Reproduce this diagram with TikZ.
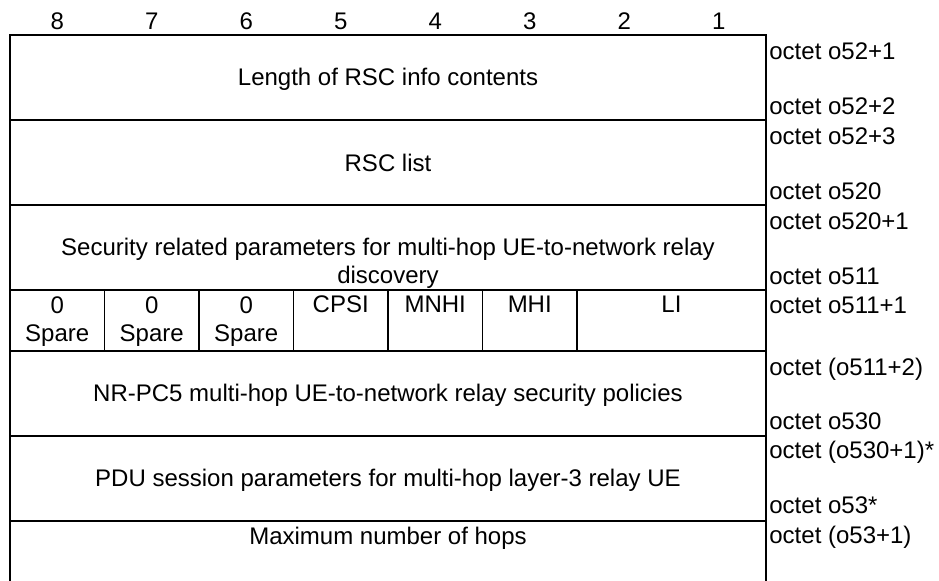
\documentclass[tikz,border=0pt]{standalone}
\usepackage{fontspec}
\setmainfont{Liberation Sans}
\usetikzlibrary{positioning}
\tikzset{
  rule/.style={line width=0.7pt},
  field/.style={font=\fontsize{12}{14}\selectfont,inner sep=0pt,align=center,anchor=base},
  octet/.style={font=\fontsize{12}{14}\selectfont,inner sep=0pt,anchor=base west},
}

\begin{document}
\begin{tikzpicture}[x=0.5pt,y=-0.5pt]
\useasboundingbox (0,0) rectangle (939,581);
% bit numbers
\foreach \b in {1,...,8}
  \node[field] (bit\b) at ({57.25+94.5*(8-\b)},30) {\b};
% frame and rows
\draw[rule] (10,581) -- (10,35) -- (766,35) -- (766,581);
\foreach \y in {120,205,290,351,436,521}
  \draw[rule] (10,\y) -- (766,\y);
\foreach \x in {104.5,199,293.5,388,482.5,577}
  \draw[rule] (\x,290) -- (\x,351);
% fields (multi-line nodes sit on their last baseline)
\node[field] (len) at (388,86) {Length of RSC info contents};
\node[field] (rsclist) at (388,171.5) {RSC list};
\node[field] (secpar) at (388,284) {Security related parameters for multi-hop UE-to-network relay\\discovery};
\foreach \b in {8,7,6}
  \node[field] (spare\b) at ({57.25+94.5*(8-\b)},341.5) {0\\Spare};
\node[field] (cpsi) at (340.75,313) {CPSI};
\node[field] (mnhi) at (435.25,313) {MNHI};
\node[field] (mhi) at (529.75,313) {MHI};
\node[field] (li) at (671.5,313) {LI};
\node[field] (policies) at (388,401.5) {NR-PC5 multi-hop UE-to-network relay security policies};
\node[field] (pdu) at (388,486.5) {PDU session parameters for multi-hop layer-3 relay UE};
\node[field] (maxhops) at (388,545) {Maximum number of hops};
% octet numbers
\node[octet] (oct1) at (769,60) {octet o52+1};
\node[octet] (oct2) at (769,115) {octet o52+2};
\node[octet] (oct3) at (769,144.5) {octet o52+3};
\node[octet] (oct4) at (769,199.5) {octet o520};
\node[octet] (oct5) at (769,230) {octet o520+1};
\node[octet] (oct6) at (769,284.5) {octet o511};
\node[octet] (oct7) at (769,313.5) {octet o511+1};
\node[octet] (oct8) at (769,376) {octet (o511+2)};
\node[octet] (oct9) at (769,430) {octet o530};
\node[octet] (oct10) at (769,458.5) {octet (o530+1)*};
\node[octet] (oct11) at (769,514) {octet o53*};
\node[octet] (oct12) at (769,544) {octet (o53+1)};
\end{tikzpicture}
\end{document}
